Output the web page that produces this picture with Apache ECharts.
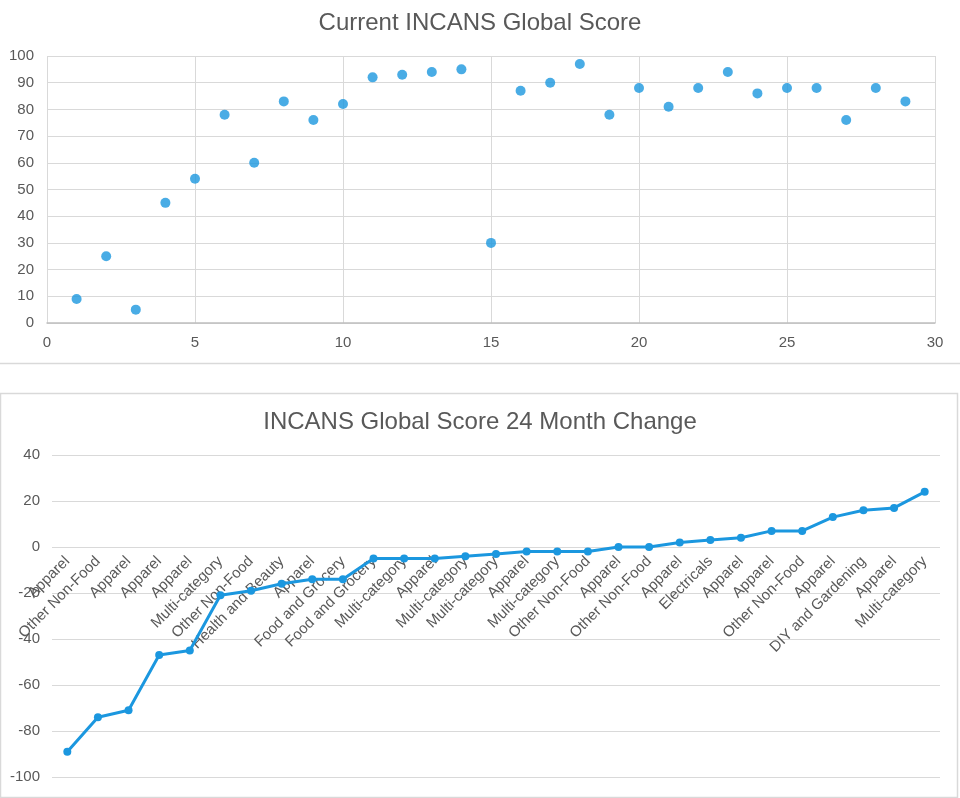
<!DOCTYPE html>
<html>
<head>
<meta charset="utf-8">
<script src="https://cdn.jsdelivr.net/npm/echarts@6/dist/echarts.min.js"></script>
<style>
html,body{margin:0;padding:0;background:#fff;}
#c{width:960px;height:798px;}
</style>
</head>
<body>
<div id="c"></div>
<script>
// Top chart: Current INCANS Global Score (x = index 1..29)
const scoreX = [1,2,3,4,5,6,7,8,9,10,11,12,13,14,15,16,17,18,19,20,21,22,23,24,25,26,27,28,29];
const scoreY = [9,25,5,45,54,78,60,83,76,82,92,93,94,95,30,87,90,97,78,88,81,88,94,86,88,88,76,88,83];

// Bottom chart: INCANS Global Score 24 Month Change
const categories = ['Apparel','Other Non-Food','Apparel','Apparel','Apparel','Multi-category','Other Non-Food','Health and Beauty','Apparel','Food and Grocery','Food and Grocery','Multi-category','Apparel','Multi-category','Multi-category','Apparel','Multi-category','Other Non-Food','Apparel','Other Non-Food','Apparel','Electricals','Apparel','Apparel','Other Non-Food','Apparel','DIY and Gardening','Apparel','Multi-category'];
const change = [-89,-74,-71,-47,-45,-21,-19,-16,-14,-14,-5,-5,-5,-4,-3,-2,-2,-2,0,0,2,3,4,7,7,13,16,17,24];

const blue = '#1b97df';
const txt = '#595959';
const grid = '#d9d9d9';
const font = 'Liberation Sans, Arial, sans-serif';

const chart = echarts.init(document.getElementById('c'), null, {renderer:'canvas'});
chart.setOption({
  backgroundColor:'#fff',
  animation:false,
  title:[
    {text:'Current INCANS Global Score', left:'center', top:6,
     textStyle:{fontFamily:font, fontSize:24, fontWeight:'normal', color:txt}},
    {text:'INCANS Global Score 24 Month Change', left:'center', top:405,
     textStyle:{fontFamily:font, fontSize:24, fontWeight:'normal', color:txt}}
  ],
  graphic:[
    {type:'line', shape:{x1:0,y1:363.5,x2:960,y2:363.5}, style:{stroke:'#d9d9d9',lineWidth:1.5}, silent:true},
    {type:'rect', shape:{x:0.5,y:393.5,width:957,height:404}, style:{fill:'none',stroke:'#d9d9d9',lineWidth:1.5}, silent:true}
  ],
  grid:[
    {left:47, right:25, top:56, height:267, containLabel:false, outerBoundsMode:'none'},
    {left:52, right:20, top:455, height:322, containLabel:false, outerBoundsMode:'none'}
  ],
  xAxis:[
    {gridIndex:0, type:'value', min:0, max:30, interval:5,
     axisLine:{show:true, lineStyle:{color:'#bfbfbf', width:1.5}},
     axisTick:{show:false},
     axisLabel:{color:txt, fontFamily:font, fontSize:15, margin:12},
     splitLine:{show:true, lineStyle:{color:grid, width:1}}},
    {gridIndex:1, type:'category', data:categories, boundaryGap:true,
     position:'bottom', offset:-230,
     axisLine:{show:false, onZero:false},
     axisTick:{show:false},
     axisLabel:{color:txt, fontFamily:font, fontSize:15, rotate:45, interval:0, margin:12},
     splitLine:{show:false}}
  ],
  yAxis:[
    {gridIndex:0, type:'value', min:0, max:100, interval:10,
     axisLine:{show:false}, axisTick:{show:false},
     axisLabel:{color:txt, fontFamily:font, fontSize:15, margin:13},
     splitLine:{show:true, lineStyle:{color:grid, width:1}}},
    {gridIndex:1, type:'value', min:-100, max:40, interval:20,
     axisLine:{show:false}, axisTick:{show:false},
     axisLabel:{color:txt, fontFamily:font, fontSize:15, margin:12},
     splitLine:{show:true, lineStyle:{color:grid, width:1}}}
  ],
  series:[
    {type:'scatter', xAxisIndex:0, yAxisIndex:0,
     data:scoreX.map((x,i)=>[x, scoreY[i]]),
     symbol:'circle', symbolSize:10,
     itemStyle:{color:blue}},
    {type:'line', xAxisIndex:1, yAxisIndex:1,
     data:change,
     symbol:'circle', symbolSize:8, showSymbol:true,
     lineStyle:{color:blue, width:3},
     itemStyle:{color:blue}}
  ]
});
</script>
</body>
</html>
